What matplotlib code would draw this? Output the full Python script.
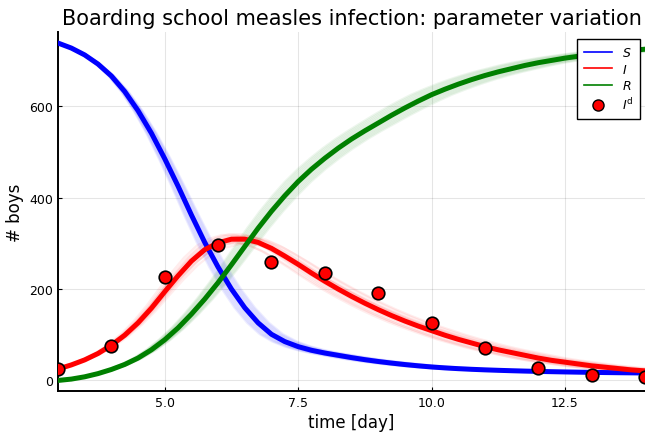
import numpy as np
import matplotlib
matplotlib.use("Agg")
import matplotlib.pyplot as plt
from matplotlib.lines import Line2D

t = [3.00, 3.25, 3.50, 3.75, 4.00, 4.25, 4.50, 4.75, 5.00, 5.25, 5.50, 5.75,
     6.00, 6.25, 6.50, 6.75, 7.00, 7.25, 7.50, 7.75, 8.00, 8.25, 8.50, 8.75,
     9.00, 9.25, 9.50, 9.75, 10.00, 10.25, 10.50, 10.75, 11.00, 11.25, 11.50,
     11.75, 12.00, 12.25, 12.50, 12.75, 13.00, 13.25, 13.50, 13.75, 14.00]

S = [738, 727, 712, 692, 666, 632, 590, 541, 485, 425, 362, 302,
     248, 200, 159, 126, 101, 85, 74, 66, 60, 55, 50, 45.5,
     41.5, 38, 34.8, 32, 29.5, 27.5, 25.8, 24.4, 23.2, 22.2, 21.3,
     20.5, 19.8, 19.2, 18.65, 18.15, 17.7, 17.3, 16.95, 16.65, 16.35]

I = [25, 34, 45, 59, 77, 99, 126, 158, 194, 229, 261, 286,
     301, 309, 309, 302, 289, 272, 254, 235, 217, 200, 184, 169,
     155, 142, 130, 119, 109, 99, 90, 82, 74, 67, 61,
     55, 49, 44, 40, 36, 32, 29, 26, 23, 21]

R = [0, 3, 8, 15, 24, 35, 49, 67, 89, 115, 145, 178,
     214, 253, 293, 333, 370, 404, 435, 462, 486, 508, 528, 546,
     563, 580, 596, 611, 625, 637, 648, 658, 667, 675, 682,
     689, 695, 700, 705, 709, 713, 716.5, 719.5, 722, 724.5]

# observed infected boys
days = [3, 4, 5, 6, 7, 8, 9, 10, 11, 12, 13, 14]
I_data = [25, 75, 227, 296, 258, 236, 192, 126, 71, 28, 11, 7]

# parameter variation: rate scale factors and peak scale factors
rate_var = [0.945, 0.953, 0.961, 0.969, 0.977, 0.985, 0.993, 1.0,
            1.007, 1.015, 1.023, 1.031, 1.039, 1.047, 1.055]
peak_var = [1.03, 0.98, 1.02, 0.97, 1.01, 1.035, 0.99, 1.0,
            1.025, 0.975, 1.015, 0.985, 1.02, 0.965, 1.005]

fig = plt.figure(figsize=(6.45, 4.35), dpi=100)
ax = fig.add_axes([0.0899, 0.0989, 0.9101, 0.8251])

tt = np.array(t)
Sa, Ia, Ra = np.array(S), np.array(I), np.array(R)
for k, a in zip(rate_var, peak_var):
    tv = t[0] + (tt - t[0]) * k
    ax.plot(tv, Sa, color=(0, 0, 1), lw=1.6, alpha=0.07)
    ax.plot(tv, Ia * a, color=(1, 0, 0), lw=1.6, alpha=0.07)
    ax.plot(tv, Ra, color=(0, 0.5, 0), lw=1.6, alpha=0.07)

ax.plot(t, S, color=(0, 0, 1), lw=3.6, zorder=3)
ax.plot(t, I, color=(1, 0, 0), lw=3.6, zorder=3)
ax.plot(t, R, color=(0, 0.5, 0), lw=3.6, zorder=3)
ax.scatter(days, I_data, s=82, color=(1, 0, 0), edgecolor='black',
           linewidth=1.2, zorder=5)

ax.set_xlim(3, 14)
ax.set_ylim(-23, 762)
ax.set_xticks([5.0, 7.5, 10.0, 12.5])
ax.set_xticklabels(['5.0', '7.5', '10.0', '12.5'])
ax.set_yticks([0, 200, 400, 600])
ax.tick_params(direction='in', length=3, width=0.8, labelsize=9, colors='black')
ax.grid(True, color='black', alpha=0.1, lw=0.8)
for side in ['top', 'right']:
    ax.spines[side].set_visible(False)
for side in ['left', 'bottom']:
    ax.spines[side].set_linewidth(1.4)

ax.set_title('Boarding school measles infection: parameter variation',
             fontsize=15, pad=6)
ax.set_xlabel('time [day]', fontsize=12, labelpad=3)
ax.set_ylabel('# boys', fontsize=12, labelpad=4)

handles = [Line2D([], [], color=(0, 0, 1), lw=1.2),
           Line2D([], [], color=(1, 0, 0), lw=1.2),
           Line2D([], [], color=(0, 0.5, 0), lw=1.2),
           Line2D([], [], ls='', marker='o', markersize=8,
                  markerfacecolor=(1, 0, 0), markeredgecolor='black')]
labels = ['$S$', '$I$', '$R$', r'$I^{\mathrm{d}}$']
leg = ax.legend(handles, labels, loc='upper right', bbox_to_anchor=(0.9915, 0.9805),
                borderaxespad=0, fontsize=9, frameon=True, fancybox=False,
                edgecolor='black', framealpha=1, handlelength=2.2,
                borderpad=0.55, labelspacing=0.3)
leg.get_frame().set_linewidth(1.0)

fig.savefig('out.png', dpi=100)
